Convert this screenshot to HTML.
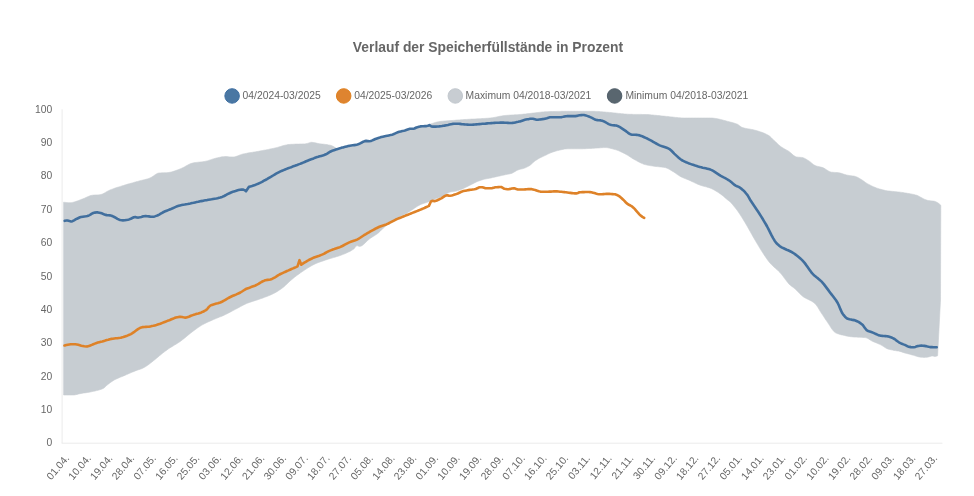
<!DOCTYPE html>
<html lang="de">
<head>
<meta charset="utf-8">
<title>Verlauf der Speicherfüllstände in Prozent</title>
<style>
html,body{margin:0;padding:0;background:#fff;}
body{width:974px;height:496px;overflow:hidden;font-family:"Liberation Sans",Arial,Helvetica,sans-serif;}
svg{display:block;}
svg text{font-family:"Liberation Sans",Arial,Helvetica,sans-serif;font-size:10.32px;fill:#666;}
svg text.title{font-size:13.87px;font-weight:bold;fill:#666;}
</style>
</head>
<body>
<svg width="974" height="496" viewBox="0 0 974 496">
<rect width="974" height="496" fill="#fff"/>
<text class="title" x="488.0" y="51.8" text-anchor="middle">Verlauf der Speicherfüllstände in Prozent</text>
<g class="legend">
<circle cx="232.1" cy="95.95" r="7.25" fill="#4a77a3" stroke="#3e6fa2" stroke-width="1"/>
<text x="242.6" y="98.8" style="font-size:10.33px">04/2024-03/2025</text>
<circle cx="343.7" cy="95.95" r="7.25" fill="#de8430" stroke="#e0801c" stroke-width="1"/>
<text x="354.2" y="98.8" style="font-size:10.33px">04/2025-03/2026</text>
<circle cx="455.3" cy="95.95" r="7.25" fill="#c8cdd2" stroke="#c2c8ce" stroke-width="1"/>
<text x="465.6" y="98.8" style="font-size:10.33px">Maximum 04/2018-03/2021</text>
<circle cx="614.6" cy="95.95" r="7.25" fill="#59666f" stroke="#4f5d68" stroke-width="1"/>
<text x="625.4" y="98.8" style="font-size:10.33px">Minimum 04/2018-03/2021</text>
</g>
<path d="M63.6 202.2 L65.1 202.4 L66.6 202.6 L68.1 202.7 L70.0 202.7 L71.1 202.7 L72.6 202.4 L74.1 202.1 L75.6 201.6 L77.1 201.1 L78.6 200.5 L80.1 199.9 L81.6 199.3 L82.5 199.0 L84.5 198.2 L86.0 197.5 L87.5 196.8 L89.0 196.2 L90.5 195.6 L92.6 195.2 L93.5 195.1 L95.0 195.0 L96.5 194.9 L98.0 194.9 L100.0 194.7 L101.0 194.5 L102.5 194.0 L104.0 193.3 L105.5 192.4 L107.0 191.5 L108.5 190.7 L110.0 190.0 L111.5 189.4 L113.0 188.9 L114.5 188.3 L116.0 187.8 L117.5 187.3 L119.0 186.9 L120.5 186.4 L121.9 185.9 L123.4 185.5 L125.0 185.0 L126.4 184.6 L127.9 184.1 L129.4 183.7 L130.9 183.3 L132.4 182.9 L133.9 182.4 L135.4 182.0 L136.9 181.6 L137.7 181.4 L138.4 181.2 L139.9 180.8 L141.4 180.4 L142.9 180.1 L144.4 179.7 L145.9 179.3 L147.4 178.9 L148.9 178.4 L150.0 178.0 L151.9 177.0 L153.4 176.0 L154.9 174.9 L156.4 173.9 L157.9 173.2 L159.0 173.0 L160.8 172.9 L162.3 172.8 L163.8 172.8 L165.3 172.7 L166.8 172.7 L167.7 172.6 L168.3 172.5 L169.8 172.3 L171.3 172.0 L172.8 171.6 L174.3 171.1 L175.8 170.6 L177.3 170.0 L178.8 169.4 L180.0 169.0 L181.8 168.2 L183.3 167.5 L184.8 166.7 L186.3 165.8 L187.8 165.0 L189.3 164.2 L190.8 163.6 L192.8 163.0 L193.8 162.8 L195.3 162.6 L196.8 162.4 L198.3 162.2 L199.7 162.1 L201.2 161.9 L202.7 161.8 L204.2 161.5 L205.0 161.4 L205.7 161.2 L207.2 160.9 L208.7 160.4 L210.2 159.9 L211.7 159.4 L213.2 158.9 L215.0 158.4 L216.2 158.1 L217.7 157.8 L219.2 157.4 L220.7 157.1 L222.2 156.8 L223.7 156.7 L225.0 156.6 L226.7 156.6 L228.2 156.7 L229.7 156.9 L231.2 156.9 L233.0 157.0 L234.2 156.9 L235.7 156.6 L237.2 156.1 L238.6 155.5 L240.1 154.9 L241.6 154.4 L243.0 154.0 L244.6 153.7 L246.1 153.4 L247.6 153.1 L249.1 152.8 L250.6 152.6 L252.1 152.4 L253.6 152.1 L255.1 151.9 L256.6 151.6 L258.0 151.4 L259.6 151.1 L261.1 150.8 L262.6 150.5 L264.1 150.2 L265.6 150.0 L267.1 149.7 L268.6 149.4 L270.1 149.0 L271.6 148.7 L273.1 148.4 L275.0 148.0 L276.1 147.8 L277.5 147.4 L279.0 146.9 L280.5 146.5 L282.0 146.0 L283.5 145.6 L285.0 145.2 L286.5 144.9 L288.0 144.6 L290.0 144.4 L291.0 144.3 L292.5 144.3 L294.0 144.2 L295.5 144.1 L297.0 144.1 L298.5 144.1 L300.0 144.0 L301.5 144.0 L303.0 143.9 L304.5 143.9 L305.7 143.8 L307.5 143.4 L309.0 142.9 L310.5 142.4 L311.5 142.3 L313.5 142.5 L315.0 142.8 L316.4 143.1 L317.9 143.5 L318.7 143.6 L319.4 143.7 L320.9 143.9 L322.4 144.1 L323.9 144.2 L325.9 144.5 L326.9 144.6 L328.4 144.9 L330.2 145.2 L331.4 145.6 L332.9 146.2 L334.4 147.1 L335.9 148.1 L337.7 149.2 L339.2 148.8 L340.7 148.4 L342.2 147.9 L343.1 147.7 L343.7 147.5 L345.2 147.1 L346.7 146.7 L348.2 146.3 L348.9 146.2 L349.7 146.0 L351.2 145.8 L352.7 145.6 L354.2 145.4 L355.7 145.2 L357.5 144.8 L358.7 144.4 L360.2 143.6 L361.8 142.8 L363.3 142.0 L364.8 141.4 L366.1 141.2 L367.8 141.4 L369.0 141.6 L370.8 141.3 L372.3 140.7 L373.8 140.0 L375.3 139.3 L376.2 139.0 L378.3 138.3 L379.8 137.9 L381.3 137.4 L382.8 137.0 L384.8 136.5 L385.8 136.3 L387.3 136.0 L388.8 135.7 L390.3 135.4 L392.0 135.0 L393.3 134.6 L394.8 133.9 L396.3 133.2 L397.8 132.6 L399.2 132.1 L400.8 131.7 L402.3 131.3 L403.8 131.0 L404.9 130.7 L406.9 130.0 L408.4 129.5 L409.9 129.1 L410.7 129.0 L411.4 129.0 L412.9 129.0 L413.6 129.0 L414.4 128.8 L416.4 127.8 L417.4 127.5 L418.9 127.1 L420.4 126.7 L422.2 126.5 L423.4 126.5 L424.9 126.4 L426.5 126.4 L427.9 126.1 L429.4 124.4 L430.9 123.9 L432.4 123.4 L433.9 122.9 L435.4 122.4 L436.9 122.1 L438.4 121.8 L440.0 121.5 L441.4 121.3 L442.9 121.2 L444.4 121.0 L445.9 120.9 L447.4 120.8 L448.9 120.7 L450.4 120.6 L452.0 120.5 L453.4 120.4 L454.9 120.3 L456.4 120.1 L457.9 120.0 L459.4 119.9 L460.9 119.8 L462.4 119.7 L463.9 119.6 L465.0 119.5 L466.9 119.4 L468.4 119.3 L469.9 119.2 L471.4 119.1 L472.9 119.1 L474.4 119.0 L475.9 118.9 L477.4 118.8 L478.9 118.8 L480.4 118.7 L481.9 118.6 L483.4 118.5 L484.9 118.4 L486.4 118.3 L487.9 118.2 L489.4 118.1 L490.0 118.0 L490.9 117.9 L492.4 117.7 L493.9 117.5 L495.4 117.2 L496.9 116.9 L498.4 116.6 L499.9 116.3 L501.4 116.0 L502.9 115.8 L504.4 115.6 L505.0 115.5 L505.9 115.4 L507.4 115.3 L508.9 115.2 L510.4 115.1 L511.9 115.0 L513.4 114.9 L514.9 114.8 L516.4 114.8 L517.9 114.7 L519.4 114.5 L520.0 114.5 L520.9 114.4 L522.4 114.3 L523.9 114.1 L525.4 114.0 L526.9 113.8 L528.4 113.6 L529.9 113.5 L531.4 113.3 L532.9 113.1 L534.0 113.0 L535.9 112.8 L537.4 112.6 L538.9 112.4 L540.4 112.2 L541.9 112.0 L543.4 111.9 L545.0 111.8 L546.4 111.7 L547.9 111.7 L549.4 111.6 L550.9 111.6 L552.4 111.5 L553.9 111.5 L555.4 111.5 L556.9 111.4 L558.4 111.4 L559.9 111.4 L561.4 111.3 L562.9 111.3 L564.4 111.3 L565.9 111.3 L567.6 111.3 L568.9 111.3 L570.4 111.3 L571.9 111.3 L573.4 111.3 L574.9 111.3 L576.4 111.3 L577.9 111.3 L579.4 111.3 L580.9 111.3 L582.4 111.3 L583.9 111.3 L585.4 111.3 L586.9 111.3 L588.4 111.3 L589.9 111.3 L591.4 111.3 L592.6 111.3 L594.4 111.3 L595.9 111.4 L597.4 111.4 L598.9 111.5 L600.4 111.7 L601.9 111.8 L603.4 111.9 L604.9 112.0 L606.4 112.2 L607.9 112.3 L609.4 112.4 L610.0 112.5 L610.9 112.6 L612.4 112.7 L613.9 112.9 L615.4 113.0 L616.9 113.2 L618.4 113.4 L619.9 113.5 L621.4 113.7 L622.9 113.8 L624.4 114.0 L625.9 114.1 L627.4 114.2 L628.9 114.3 L630.0 114.3 L631.9 114.3 L633.4 114.4 L634.9 114.4 L636.4 114.4 L637.9 114.4 L639.4 114.4 L640.9 114.4 L642.4 114.5 L643.9 114.5 L645.0 114.5 L646.9 114.6 L648.4 114.6 L649.9 114.7 L651.4 114.9 L652.9 115.0 L654.4 115.2 L655.9 115.3 L657.4 115.5 L658.9 115.6 L660.4 115.8 L661.9 116.0 L663.4 116.1 L665.3 116.3 L666.4 116.4 L667.9 116.5 L669.4 116.7 L670.9 116.9 L672.4 117.0 L673.9 117.2 L675.4 117.4 L676.9 117.5 L678.4 117.7 L679.9 117.8 L681.4 117.9 L682.9 118.0 L684.4 118.0 L685.3 118.0 L687.3 118.0 L688.8 118.0 L690.3 118.0 L691.8 118.0 L693.3 118.0 L694.8 118.0 L696.3 118.0 L697.8 118.0 L699.3 118.0 L700.8 118.0 L702.3 118.0 L703.8 118.0 L705.3 118.0 L706.8 118.0 L708.3 118.0 L710.4 118.0 L711.3 118.0 L712.8 118.1 L714.3 118.3 L715.8 118.5 L717.3 118.7 L718.8 119.1 L720.3 119.4 L721.8 119.8 L723.3 120.2 L724.8 120.6 L726.3 121.0 L727.8 121.4 L729.3 121.8 L730.0 122.0 L730.8 122.2 L732.3 122.6 L733.8 123.0 L735.3 123.5 L736.8 124.0 L737.5 124.3 L738.3 124.8 L739.8 125.9 L741.3 127.0 L742.5 127.6 L744.3 128.1 L745.8 128.4 L747.3 128.7 L748.8 128.9 L750.3 129.2 L751.8 129.5 L752.5 129.6 L753.3 129.8 L754.8 130.2 L756.3 130.6 L757.8 131.0 L759.3 131.5 L760.8 132.0 L762.6 132.6 L763.8 133.1 L765.3 133.7 L766.8 134.5 L768.8 135.6 L769.8 136.3 L771.3 137.7 L772.8 139.2 L774.3 140.7 L775.0 141.3 L775.8 142.1 L777.3 143.5 L778.8 144.9 L780.3 146.2 L781.4 147.0 L783.3 148.2 L784.8 149.1 L786.3 149.9 L787.8 150.7 L788.9 151.4 L790.8 152.9 L792.3 154.3 L793.8 155.6 L795.3 156.5 L796.4 156.9 L798.3 157.2 L799.8 157.3 L801.3 157.4 L802.6 157.6 L804.3 158.2 L805.8 159.0 L807.3 159.9 L808.9 160.9 L810.3 161.9 L811.8 163.2 L813.3 164.5 L815.2 165.6 L816.3 166.0 L817.8 166.4 L819.3 166.7 L820.8 167.1 L822.7 167.6 L823.8 168.1 L825.3 169.0 L826.8 170.0 L828.3 170.9 L829.8 171.7 L831.5 172.2 L832.8 172.3 L834.3 172.4 L835.8 172.5 L837.7 172.6 L838.8 172.8 L840.3 173.1 L841.8 173.5 L843.3 174.0 L844.8 174.5 L846.3 174.9 L847.7 175.2 L849.3 175.5 L850.8 175.7 L852.3 175.9 L853.8 176.1 L855.3 176.4 L856.8 177.0 L858.3 177.7 L860.3 178.9 L861.3 179.5 L862.8 180.5 L864.3 181.6 L865.8 182.7 L867.8 183.9 L868.8 184.4 L870.3 185.2 L871.8 186.0 L873.3 186.7 L874.8 187.3 L876.3 187.9 L877.8 188.4 L879.3 188.9 L880.8 189.3 L882.3 189.7 L883.8 190.1 L885.3 190.5 L886.8 190.7 L887.8 190.9 L889.8 191.1 L891.3 191.3 L892.8 191.4 L894.3 191.6 L895.8 191.7 L897.8 191.9 L898.8 192.0 L900.3 192.2 L901.8 192.4 L903.3 192.6 L904.8 192.9 L906.3 193.1 L907.9 193.4 L909.3 193.6 L910.8 193.9 L912.3 194.2 L913.8 194.5 L915.3 194.9 L916.8 195.3 L917.9 195.7 L920.0 196.9 L921.3 197.6 L922.8 198.4 L924.3 199.2 L925.8 199.8 L927.3 200.3 L928.0 200.5 L928.8 200.6 L930.3 200.8 L931.8 200.9 L933.3 201.1 L934.5 201.3 L936.3 202.0 L937.8 202.8 L938.5 203.3 L939.3 203.9 L940.8 205.3 L940.5 300 L937.6 355.8 L936.1 356.3 L934.7 356.5 L933.1 356.1 L932.3 356.0 L931.6 356.1 L930.1 356.5 L928.2 357.0 L927.1 357.2 L925.6 357.3 L924.2 357.4 L922.6 357.3 L921.1 357.2 L919.4 357.0 L918.1 356.7 L916.6 356.3 L915.1 355.8 L914.5 355.6 L913.6 355.3 L912.1 354.9 L910.6 354.5 L909.7 354.2 L907.6 353.7 L906.1 353.3 L904.8 353.0 L903.1 352.4 L901.6 351.9 L900.0 351.4 L898.6 351.1 L897.1 350.9 L895.3 350.6 L894.1 350.4 L892.6 350.1 L891.1 349.8 L889.6 349.4 L887.8 348.9 L886.6 348.4 L885.1 347.6 L883.6 346.6 L882.1 345.6 L880.3 344.6 L879.1 344.1 L877.6 343.4 L876.1 342.8 L874.6 342.2 L872.8 341.4 L871.6 340.8 L870.1 339.9 L868.6 338.9 L867.1 338.1 L865.3 337.6 L864.1 337.5 L862.6 337.4 L861.1 337.3 L859.6 337.2 L858.1 337.2 L856.6 337.1 L855.1 337.1 L853.6 337.0 L852.8 336.9 L852.1 336.8 L850.6 336.7 L849.2 336.4 L847.7 336.2 L846.2 335.9 L844.7 335.5 L842.7 335.1 L841.7 334.9 L840.2 334.5 L838.7 334.0 L837.2 333.5 L835.2 332.6 L834.2 331.8 L832.7 330.1 L831.2 328.0 L829.7 325.6 L827.7 322.6 L826.7 321.1 L825.2 318.9 L823.7 316.6 L822.2 314.3 L820.2 311.3 L819.2 309.6 L817.7 307.1 L816.2 304.9 L815.2 303.8 L813.2 302.2 L811.7 301.2 L810.2 300.4 L808.7 299.7 L807.2 299.0 L805.7 298.2 L804.2 297.4 L802.6 296.3 L801.2 295.1 L799.7 293.6 L798.2 292.0 L796.7 290.4 L795.0 288.8 L793.7 287.8 L792.2 286.7 L790.7 285.6 L790.0 285.0 L789.2 284.2 L787.7 282.5 L786.2 280.6 L784.7 278.6 L783.2 276.5 L781.7 274.6 L780.0 272.6 L778.7 271.3 L777.2 269.8 L775.7 268.5 L774.2 267.2 L772.7 265.8 L771.2 264.3 L770.0 263.0 L768.2 260.8 L766.7 258.7 L765.2 256.5 L763.7 254.3 L762.6 252.6 L760.7 249.6 L759.2 247.1 L757.7 244.6 L756.2 242.1 L755.0 240.0 L753.2 236.9 L751.7 234.2 L750.2 231.6 L748.7 228.9 L747.2 226.2 L745.7 223.7 L745.0 222.5 L744.2 221.2 L742.7 218.7 L741.2 216.3 L739.7 214.0 L738.2 211.8 L737.5 210.8 L736.7 209.7 L735.2 207.8 L733.7 205.9 L732.2 204.1 L730.7 202.5 L730.0 201.8 L729.2 201.1 L728.0 200.2 L726.2 198.7 L724.7 197.4 L723.2 196.1 L721.7 194.9 L720.4 193.9 L718.7 192.8 L717.2 191.8 L715.7 190.9 L714.2 190.0 L712.7 189.2 L711.2 188.5 L710.4 188.2 L709.7 187.9 L708.2 187.5 L706.7 187.0 L705.2 186.6 L703.7 186.2 L702.2 185.8 L700.3 185.2 L699.2 184.8 L697.7 184.2 L696.2 183.5 L694.7 182.8 L693.2 182.1 L691.7 181.4 L690.3 180.7 L688.7 180.0 L687.2 179.4 L685.7 178.8 L684.2 178.2 L682.7 177.6 L681.2 176.9 L680.3 176.4 L678.2 175.1 L676.7 174.1 L675.3 173.0 L673.8 172.0 L672.8 171.4 L670.8 170.2 L669.3 169.3 L667.8 168.5 L666.3 167.9 L665.3 167.6 L663.3 167.3 L661.8 167.1 L660.3 166.9 L658.8 166.8 L657.3 166.6 L655.3 166.4 L654.3 166.3 L652.8 166.0 L651.3 165.8 L649.8 165.6 L648.3 165.3 L646.8 165.0 L645.2 164.6 L643.8 164.2 L642.3 163.6 L640.8 162.9 L639.3 162.2 L637.8 161.4 L636.3 160.6 L635.2 160.0 L633.3 158.9 L631.8 158.0 L630.3 157.0 L628.8 156.0 L627.3 155.1 L625.2 153.9 L624.3 153.4 L622.8 152.7 L621.3 152.0 L619.8 151.3 L618.3 150.6 L616.8 150.1 L615.2 149.6 L613.8 149.2 L612.3 148.8 L610.8 148.4 L609.3 148.1 L607.8 147.8 L606.3 147.6 L605.0 147.6 L603.3 147.6 L601.8 147.7 L600.3 147.8 L598.8 147.9 L597.3 148.0 L595.8 148.1 L594.3 148.2 L592.6 148.3 L591.3 148.4 L589.8 148.4 L588.3 148.5 L586.8 148.6 L585.3 148.7 L583.8 148.7 L582.3 148.8 L580.8 148.8 L580.0 148.8 L579.3 148.8 L577.8 148.8 L576.3 148.8 L574.8 148.8 L573.3 148.8 L571.8 148.8 L570.3 148.8 L568.8 148.8 L567.6 148.8 L565.8 148.9 L564.3 149.1 L562.8 149.4 L561.3 149.7 L559.8 150.1 L558.3 150.4 L557.6 150.6 L556.8 150.8 L555.3 151.2 L553.8 151.7 L552.3 152.2 L550.8 152.8 L550.0 153.1 L549.3 153.4 L547.8 154.1 L546.3 154.9 L545.5 155.3 L544.8 155.6 L543.3 156.3 L541.8 157.0 L540.3 157.7 L538.8 158.5 L537.3 159.4 L535.8 160.4 L535.2 160.8 L534.3 161.5 L532.8 162.8 L531.3 164.2 L529.8 165.4 L529.1 165.9 L528.3 166.3 L526.8 167.1 L525.3 167.8 L523.9 168.3 L522.3 168.8 L520.8 169.1 L519.3 169.5 L517.8 170.0 L516.3 170.7 L514.8 171.7 L513.3 172.6 L511.6 173.4 L510.3 173.7 L508.8 174.1 L507.3 174.3 L505.8 174.6 L504.4 174.9 L502.8 175.2 L501.3 175.6 L499.9 175.9 L498.4 176.2 L497.2 176.5 L495.4 176.9 L493.9 177.3 L492.4 177.6 L491.1 177.9 L489.4 178.2 L487.9 178.5 L486.4 178.8 L484.9 179.1 L483.9 179.3 L481.9 179.9 L480.4 180.4 L478.9 180.9 L477.4 181.5 L476.7 181.8 L475.9 182.2 L474.4 182.9 L472.9 183.7 L471.4 184.5 L470.5 184.9 L469.9 185.2 L468.4 186.0 L466.9 186.8 L465.4 187.5 L463.3 188.5 L462.4 188.9 L460.9 189.5 L459.4 190.1 L457.9 190.6 L456.2 191.1 L454.9 191.3 L453.4 191.5 L451.9 191.7 L450.0 192.1 L448.9 192.5 L447.4 193.3 L445.9 194.2 L444.4 195.2 L442.5 196.2 L441.4 196.7 L439.9 197.3 L438.4 197.8 L436.9 198.3 L435.4 198.8 L433.9 199.4 L432.6 199.9 L430.9 200.7 L429.4 201.4 L428.0 202.0 L426.4 202.6 L424.9 203.0 L423.4 203.5 L421.9 204.0 L420.8 204.4 L418.9 205.4 L417.4 206.3 L415.9 207.3 L414.4 208.3 L413.5 208.9 L411.4 210.3 L409.9 211.3 L408.4 212.2 L406.9 213.2 L406.3 213.5 L405.4 214.0 L403.9 214.7 L402.4 215.4 L400.9 216.1 L399.0 217.1 L397.9 217.7 L396.4 218.6 L394.9 219.5 L393.4 220.5 L391.8 221.6 L390.4 222.6 L388.9 223.6 L387.4 224.8 L385.9 225.9 L384.5 227.1 L382.9 228.5 L381.4 230.0 L379.9 231.5 L378.4 232.9 L377.3 233.8 L375.4 235.1 L373.9 236.0 L372.4 236.9 L370.9 237.9 L370.0 238.5 L367.9 240.2 L366.4 241.7 L364.9 243.2 L363.4 244.6 L361.9 245.7 L360.4 246.3 L359.6 246.4 L358.9 246.3 L357.0 245.6 L355.9 246.3 L353.9 248.9 L352.9 249.6 L351.4 250.5 L349.9 251.4 L348.4 252.1 L346.9 252.8 L345.4 253.5 L343.9 254.1 L342.6 254.6 L340.9 255.2 L339.4 255.8 L337.9 256.3 L336.4 256.7 L334.9 257.2 L333.4 257.6 L331.9 258.1 L330.4 258.5 L328.9 258.9 L327.4 259.4 L325.9 259.9 L325.0 260.2 L323.0 260.9 L321.5 261.4 L320.0 261.9 L318.5 262.5 L317.0 263.1 L315.0 263.9 L314.0 264.4 L312.5 265.2 L311.0 266.0 L309.5 266.9 L308.0 267.8 L306.5 268.8 L305.0 269.7 L303.5 270.8 L302.5 271.4 L300.5 272.8 L299.0 273.9 L297.5 275.0 L296.0 276.1 L294.5 277.3 L293.0 278.5 L291.5 279.8 L290.0 281.0 L288.5 282.4 L287.0 283.9 L285.5 285.3 L284.0 286.7 L283.0 287.5 L281.0 289.0 L279.5 290.0 L278.0 291.0 L276.5 291.9 L275.0 292.8 L273.0 293.8 L272.0 294.3 L270.5 295.0 L269.0 295.6 L267.5 296.2 L266.0 296.8 L264.5 297.3 L263.0 297.9 L261.5 298.4 L260.4 298.8 L258.5 299.5 L257.0 300.0 L255.5 300.4 L254.0 300.9 L252.5 301.4 L251.0 301.9 L249.5 302.4 L247.9 303.0 L246.5 303.6 L245.0 304.3 L243.5 305.0 L242.0 305.8 L240.5 306.6 L239.0 307.4 L237.5 308.2 L236.0 309.0 L235.4 309.3 L234.5 309.8 L233.0 310.6 L231.5 311.4 L230.0 312.2 L228.5 313.0 L227.0 313.8 L225.4 314.6 L224.0 315.2 L222.5 315.9 L221.0 316.5 L219.5 317.1 L218.0 317.7 L216.5 318.3 L215.3 318.8 L213.5 319.6 L212.0 320.2 L210.5 320.9 L209.0 321.5 L207.5 322.2 L206.0 322.9 L204.5 323.7 L202.8 324.6 L201.5 325.3 L200.0 326.3 L198.5 327.3 L197.0 328.3 L195.5 329.4 L194.0 330.5 L192.8 331.4 L191.0 332.8 L189.5 334.0 L188.0 335.2 L186.5 336.5 L185.0 337.7 L183.5 338.9 L182.0 340.1 L180.3 341.4 L179.0 342.3 L177.5 343.2 L176.0 344.2 L174.5 345.1 L173.0 346.0 L171.5 346.9 L170.0 347.8 L168.5 348.8 L167.7 349.4 L167.0 349.9 L165.5 351.0 L164.0 352.1 L162.5 353.3 L161.0 354.5 L160.2 355.2 L159.5 355.7 L158.0 357.0 L156.5 358.3 L155.0 359.5 L153.5 360.7 L152.7 361.4 L152.0 361.9 L150.6 363.0 L149.1 364.2 L147.6 365.3 L146.1 366.3 L144.6 367.2 L142.7 368.2 L141.6 368.7 L140.1 369.2 L138.6 369.7 L137.1 370.2 L135.2 370.9 L134.1 371.4 L132.6 372.0 L131.1 372.6 L129.6 373.3 L128.1 373.9 L126.6 374.6 L125.2 375.2 L123.6 375.9 L122.1 376.5 L120.6 377.1 L119.1 377.7 L117.6 378.4 L116.1 379.1 L114.6 379.8 L113.9 380.2 L113.1 380.7 L111.6 381.7 L110.1 382.7 L108.6 383.9 L107.1 385.1 L106.4 385.7 L105.6 386.5 L104.0 388.0 L102.6 388.7 L100.8 389.4 L99.6 389.8 L98.1 390.2 L96.6 390.6 L95.1 391.0 L93.6 391.3 L92.1 391.6 L91.1 391.8 L89.1 392.2 L87.6 392.4 L86.1 392.7 L84.6 392.9 L83.1 393.1 L81.6 393.4 L79.8 393.7 L78.6 394.0 L77.1 394.4 L75.6 394.7 L74.1 395.0 L73.4 395.0 L72.6 395.0 L71.1 395.0 L69.6 395.0 L68.1 395.0 L66.6 395.0 L65.1 395.0 L63.6 395.0Z" fill="#c7cdd2" stroke="#c7cdd2" stroke-width="0.6" stroke-linejoin="round"/>
<path d="M62.1 109.3V443.2" stroke="#e8e8e8" stroke-width="0.86" fill="none"/>
<path d="M61.7 443.2H942.4" stroke="#e8e8e8" stroke-width="0.86" fill="none"/>
<path d="M64.7 220.8 L65.0 220.7 L66.5 220.5 L67.4 220.5 L69.5 221.1 L71.1 221.5 L72.5 221.2 L74.0 220.4 L76.0 219.2 L77.0 218.7 L78.5 218.0 L80.0 217.3 L81.0 217.0 L82.9 216.7 L84.4 216.5 L85.9 216.3 L87.4 215.9 L88.9 215.4 L89.6 215.1 L90.4 214.7 L91.9 213.7 L93.3 213.0 L94.9 212.6 L97.0 212.3 L97.9 212.4 L99.4 212.7 L100.7 213.0 L102.4 213.6 L103.9 214.3 L105.7 214.9 L106.9 215.1 L108.4 215.2 L109.9 215.4 L110.6 215.5 L111.4 215.7 L112.9 216.3 L114.3 217.0 L115.9 217.9 L117.4 218.8 L119.2 219.7 L120.3 220.0 L121.8 220.3 L122.9 220.4 L124.8 220.3 L126.3 220.0 L127.8 219.7 L129.1 219.4 L130.8 218.7 L132.3 218.0 L133.8 217.3 L135.3 217.0 L136.8 217.4 L137.7 217.6 L139.8 217.3 L141.3 216.9 L142.8 216.4 L144.3 216.2 L145.1 216.1 L145.8 216.1 L147.3 216.2 L148.8 216.4 L150.3 216.6 L151.8 216.7 L152.5 216.7 L153.3 216.7 L154.8 216.4 L156.2 215.9 L157.4 215.5 L159.2 214.6 L160.7 213.7 L162.2 212.8 L163.6 212.0 L165.2 211.3 L166.7 210.7 L168.2 210.1 L169.7 209.5 L171.0 209.0 L172.7 208.3 L174.2 207.6 L175.7 206.9 L177.2 206.3 L178.7 205.8 L180.0 205.4 L181.7 205.0 L183.2 204.7 L184.7 204.5 L186.2 204.2 L187.7 204.0 L189.2 203.7 L190.3 203.5 L192.1 203.1 L193.6 202.8 L195.1 202.4 L196.6 202.1 L198.1 201.8 L199.6 201.4 L200.3 201.3 L201.1 201.1 L202.6 200.9 L204.1 200.6 L205.6 200.3 L207.1 200.1 L208.6 199.8 L210.3 199.5 L211.6 199.3 L213.1 199.0 L214.6 198.7 L216.1 198.5 L217.6 198.2 L219.1 197.8 L220.3 197.5 L222.1 196.9 L223.6 196.3 L225.1 195.5 L226.6 194.7 L228.0 193.9 L229.5 193.2 L231.0 192.5 L232.9 191.8 L234.0 191.4 L235.5 191.0 L237.0 190.5 L238.5 190.1 L240.0 189.8 L241.5 189.6 L242.9 189.5 L244.5 190.1 L246.0 191.3 L249.0 186.8 L250.5 186.4 L252.0 186.0 L253.5 185.5 L255.0 185.0 L256.5 184.4 L258.0 183.8 L259.5 183.1 L261.0 182.4 L262.5 181.6 L264.0 180.7 L265.4 180.0 L267.0 179.1 L268.5 178.2 L270.0 177.3 L271.6 176.4 L273.1 175.5 L274.6 174.6 L276.1 173.7 L277.6 172.9 L279.1 172.1 L280.5 171.4 L282.1 170.7 L283.6 170.1 L285.1 169.5 L286.6 168.9 L288.1 168.3 L290.0 167.6 L291.1 167.2 L292.6 166.6 L294.1 166.1 L295.6 165.5 L297.1 165.0 L298.6 164.4 L300.0 163.9 L301.6 163.2 L303.1 162.6 L304.6 162.0 L306.1 161.3 L307.6 160.7 L308.6 160.3 L310.6 159.5 L312.1 158.9 L313.6 158.4 L315.1 157.8 L317.2 157.1 L318.2 156.8 L319.7 156.3 L321.2 155.9 L322.7 155.5 L324.2 155.0 L325.9 154.3 L327.2 153.6 L328.7 152.6 L330.2 151.7 L331.7 151.0 L333.2 150.4 L334.7 149.9 L335.9 149.5 L337.7 148.9 L339.2 148.5 L340.7 148.1 L342.2 147.6 L343.1 147.4 L343.7 147.2 L345.2 146.8 L346.7 146.4 L348.2 146.0 L348.9 145.9 L349.7 145.7 L351.2 145.5 L352.7 145.3 L354.2 145.1 L355.7 144.9 L357.5 144.5 L358.7 144.1 L360.2 143.3 L361.8 142.5 L363.3 141.7 L364.8 141.1 L366.1 140.9 L367.8 141.1 L369.0 141.3 L370.8 141.0 L372.3 140.4 L373.8 139.7 L375.3 139.0 L376.2 138.7 L378.3 138.0 L379.8 137.6 L381.3 137.1 L382.8 136.7 L384.8 136.2 L385.8 136.0 L387.3 135.7 L388.8 135.4 L390.3 135.1 L392.0 134.7 L393.3 134.3 L394.8 133.6 L396.3 132.9 L397.8 132.3 L399.2 131.8 L400.8 131.4 L402.3 131.0 L403.8 130.7 L404.9 130.4 L406.9 129.7 L408.4 129.2 L409.9 128.8 L410.7 128.7 L411.4 128.7 L412.9 128.7 L413.6 128.7 L414.4 128.5 L416.4 127.5 L417.4 127.2 L418.9 126.8 L420.4 126.4 L422.2 126.2 L423.4 126.2 L424.9 126.1 L426.5 126.1 L427.9 125.8 L429.4 125.1 L431.5 126.5 L433.0 126.6 L434.5 126.6 L435.7 126.6 L437.5 126.5 L439.0 126.4 L440.5 126.2 L442.0 126.0 L443.5 125.7 L444.4 125.6 L446.5 125.2 L448.0 124.9 L449.5 124.5 L451.0 124.2 L452.5 123.9 L454.0 123.8 L455.2 123.7 L457.0 123.7 L458.5 123.8 L460.0 123.9 L461.5 124.1 L463.0 124.2 L464.5 124.4 L466.0 124.5 L467.5 124.6 L469.0 124.7 L470.2 124.7 L472.0 124.7 L473.5 124.6 L474.9 124.5 L476.4 124.4 L477.9 124.3 L479.4 124.1 L480.9 124.0 L482.4 123.8 L483.9 123.7 L485.4 123.6 L487.5 123.4 L488.4 123.3 L489.9 123.2 L491.4 123.1 L492.9 123.0 L494.4 122.9 L495.9 122.8 L497.4 122.7 L498.9 122.7 L500.4 122.6 L501.9 122.6 L503.4 122.6 L504.9 122.7 L506.4 122.8 L507.9 122.9 L509.4 123.0 L510.5 123.0 L512.4 122.9 L513.9 122.7 L515.4 122.4 L516.9 122.1 L518.4 121.8 L519.1 121.6 L519.9 121.4 L521.4 120.9 L522.9 120.4 L524.9 119.8 L525.9 119.6 L527.4 119.3 L528.9 119.1 L530.4 118.8 L531.9 118.7 L532.8 118.7 L534.9 119.3 L536.4 119.7 L537.9 119.7 L539.4 119.5 L540.9 119.4 L542.4 119.1 L543.9 118.9 L545.0 118.7 L546.9 118.2 L548.4 117.7 L549.9 117.3 L550.7 117.2 L551.4 117.2 L552.9 117.2 L554.4 117.2 L555.9 117.3 L557.4 117.3 L558.8 117.3 L560.0 117.3 L561.8 117.1 L563.3 116.8 L564.8 116.4 L566.3 116.2 L567.4 116.1 L569.3 116.1 L570.8 116.1 L572.3 116.1 L573.8 116.1 L575.4 116.1 L576.8 115.9 L578.3 115.5 L579.7 115.2 L581.3 115.1 L582.8 115.0 L584.0 115.0 L585.8 115.4 L587.7 116.1 L588.8 116.5 L590.3 117.1 L592.0 117.9 L593.3 118.6 L594.8 119.5 L595.7 119.8 L596.3 119.9 L597.8 120.1 L599.3 120.2 L600.7 120.4 L602.3 120.8 L603.8 121.4 L604.4 121.6 L605.3 122.1 L606.8 123.0 L608.7 124.1 L609.8 124.5 L611.3 125.0 L613.0 125.3 L614.3 125.4 L615.8 125.5 L616.7 125.6 L618.8 126.5 L620.0 127.2 L621.8 128.3 L623.3 129.3 L625.2 130.6 L626.3 131.4 L627.8 132.6 L629.3 133.7 L630.8 134.4 L631.5 134.6 L632.3 134.7 L633.8 134.8 L635.3 134.8 L636.8 134.9 L637.7 135.0 L639.8 135.4 L641.3 135.9 L642.7 136.5 L644.2 137.2 L645.7 137.9 L647.7 138.8 L648.7 139.3 L650.2 140.1 L651.7 140.9 L653.2 141.8 L654.7 142.7 L656.2 143.5 L657.7 144.3 L659.2 145.1 L660.3 145.6 L662.2 146.3 L663.7 146.8 L665.2 147.3 L666.7 147.8 L668.2 148.4 L669.0 148.8 L669.7 149.2 L671.2 150.5 L672.7 152.0 L674.2 153.6 L675.3 154.6 L677.2 156.4 L678.7 157.8 L680.2 159.0 L681.6 160.0 L683.2 160.9 L684.7 161.6 L686.2 162.3 L687.7 162.9 L689.2 163.5 L690.3 163.9 L692.2 164.6 L693.7 165.1 L695.2 165.6 L696.7 166.0 L698.2 166.5 L699.7 166.9 L700.3 167.1 L701.2 167.3 L702.7 167.7 L704.2 168.0 L705.7 168.3 L707.2 168.7 L708.7 169.1 L710.4 169.6 L711.7 170.1 L713.2 170.9 L714.7 171.8 L716.2 172.8 L717.7 173.8 L719.2 174.8 L720.4 175.6 L722.2 176.6 L723.7 177.4 L725.2 178.1 L726.7 179.0 L728.1 179.8 L730.0 181.0 L731.1 181.9 L732.6 183.3 L734.1 184.6 L735.0 185.2 L735.6 185.6 L737.1 186.3 L738.6 186.9 L740.0 187.7 L741.6 188.9 L743.1 190.2 L744.6 191.7 L746.1 193.5 L747.5 195.2 L749.1 197.9 L750.0 199.5 L750.6 200.5 L752.1 202.8 L753.6 205.0 L755.1 207.2 L756.6 209.4 L758.0 211.5 L759.6 214.0 L761.1 216.4 L762.6 218.8 L764.1 221.3 L766.0 224.5 L767.1 226.5 L768.6 229.4 L770.1 232.4 L771.6 235.4 L773.1 238.2 L774.6 240.7 L776.3 243.0 L777.6 244.3 L779.1 245.6 L780.0 246.3 L782.1 247.6 L783.6 248.3 L785.1 249.0 L786.6 249.7 L788.1 250.3 L789.6 251.0 L791.1 251.7 L792.6 252.6 L794.1 253.5 L795.6 254.6 L797.1 255.7 L798.6 256.9 L800.1 258.2 L801.6 259.6 L802.6 260.6 L804.6 262.9 L806.1 264.9 L807.6 267.1 L809.1 269.2 L810.6 271.3 L812.0 273.2 L812.7 273.9 L813.5 274.7 L815.0 276.1 L816.5 277.3 L818.0 278.4 L819.5 279.7 L821.4 281.4 L822.5 282.6 L824.0 284.4 L825.5 286.4 L827.0 288.4 L828.5 290.4 L830.2 292.7 L831.5 294.4 L833.0 296.3 L834.5 298.3 L836.0 300.3 L837.7 303.0 L839.0 305.7 L840.5 309.4 L842.0 312.7 L842.7 313.8 L843.5 314.9 L845.0 316.7 L846.5 318.1 L847.7 318.8 L849.5 319.3 L851.0 319.6 L852.5 319.9 L854.0 320.1 L855.3 320.5 L857.0 321.2 L858.5 321.9 L860.0 322.9 L861.5 324.0 L862.8 325.1 L864.5 327.4 L866.5 330.1 L867.5 330.7 L869.0 331.3 L870.5 331.8 L872.0 332.3 L872.8 332.6 L873.5 332.9 L875.0 333.6 L876.5 334.3 L878.0 334.9 L879.5 335.4 L880.3 335.6 L881.0 335.7 L882.5 335.9 L884.0 336.0 L885.5 336.1 L887.0 336.3 L887.8 336.4 L888.5 336.5 L890.0 337.0 L891.5 337.5 L892.8 338.1 L894.5 339.0 L895.9 340.1 L897.4 341.2 L898.9 342.3 L900.0 342.9 L901.9 343.8 L903.4 344.4 L904.8 344.9 L906.4 345.7 L907.9 346.4 L909.7 346.9 L910.9 347.1 L912.4 347.2 L913.7 347.3 L915.4 346.9 L916.9 346.3 L917.7 346.1 L918.4 346.0 L919.9 345.7 L921.4 345.6 L922.9 345.7 L924.4 345.9 L925.8 346.1 L927.4 346.5 L928.9 346.8 L930.6 347.1 L931.9 347.1 L933.4 347.2 L934.7 347.2 L936.4 347.2 L936.7 347.2" fill="none" stroke="#416f9e" stroke-width="2.6" stroke-linejoin="round" stroke-linecap="round"/>
<path d="M64.5 345.5 L64.8 345.4 L66.3 345.0 L67.8 344.7 L69.3 344.5 L70.8 344.3 L72.3 344.2 L74.2 344.2 L75.3 344.3 L76.8 344.5 L78.3 344.8 L79.8 345.2 L81.3 345.7 L82.8 346.0 L84.3 346.3 L86.3 346.5 L87.3 346.4 L88.8 346.1 L90.3 345.5 L91.8 344.9 L93.3 344.2 L94.8 343.6 L95.9 343.2 L97.8 342.6 L99.3 342.2 L100.8 341.8 L102.3 341.5 L104.0 341.0 L105.3 340.6 L106.8 340.1 L108.3 339.7 L109.8 339.2 L111.4 338.9 L112.8 338.7 L114.3 338.5 L115.8 338.3 L117.3 338.2 L118.8 338.0 L120.3 337.8 L121.4 337.6 L123.4 337.1 L124.9 336.6 L126.4 336.1 L127.9 335.4 L129.4 334.8 L130.2 334.4 L130.9 334.1 L132.4 333.2 L133.9 332.2 L135.4 331.0 L136.9 329.9 L138.4 328.9 L139.9 328.0 L141.4 327.4 L142.7 327.1 L144.4 327.0 L145.9 326.9 L147.7 326.8 L148.9 326.7 L150.4 326.4 L151.9 326.1 L153.4 325.8 L154.9 325.4 L156.4 325.0 L157.7 324.6 L159.4 324.1 L160.9 323.5 L162.4 322.9 L163.9 322.3 L165.4 321.7 L166.9 321.1 L167.7 320.8 L168.4 320.6 L169.9 320.0 L171.4 319.3 L172.9 318.7 L174.4 318.1 L175.9 317.6 L177.4 317.2 L178.9 316.9 L180.3 316.8 L181.9 317.0 L183.4 317.3 L185.3 317.6 L186.4 317.5 L187.9 317.1 L189.4 316.5 L190.9 315.8 L192.8 315.1 L193.9 314.7 L195.4 314.3 L196.9 313.8 L198.4 313.4 L199.9 312.9 L201.4 312.4 L202.8 311.8 L204.4 311.0 L205.9 310.1 L206.6 309.6 L207.4 308.8 L208.9 306.9 L210.3 305.6 L211.9 304.9 L213.4 304.4 L214.9 304.0 L216.4 303.6 L217.9 303.3 L219.4 302.8 L220.3 302.5 L220.9 302.2 L222.4 301.5 L223.9 300.7 L225.4 299.8 L226.9 298.9 L228.4 298.0 L230.4 297.0 L231.4 296.5 L232.9 295.8 L234.4 295.2 L235.9 294.6 L237.4 293.9 L238.9 293.2 L240.4 292.5 L242.0 291.5 L243.5 290.5 L245.4 289.3 L246.5 288.8 L248.0 288.2 L249.5 287.7 L251.0 287.1 L252.5 286.6 L254.0 286.1 L255.4 285.5 L257.0 284.7 L258.5 283.9 L260.0 282.9 L261.5 282.0 L263.0 281.2 L264.5 280.6 L265.4 280.3 L267.5 279.9 L269.0 279.7 L270.4 279.4 L272.0 278.9 L273.5 278.1 L275.0 277.3 L276.5 276.4 L278.0 275.4 L279.5 274.5 L280.5 274.0 L282.5 273.1 L284.0 272.4 L285.5 271.7 L287.0 271.0 L288.5 270.4 L290.0 269.7 L291.5 269.0 L293.0 268.4 L294.5 267.7 L296.0 267.1 L297.5 266.4 L299.5 260.2 L301.3 264.7 L302.8 263.7 L304.3 262.7 L305.8 261.8 L307.3 260.9 L308.8 260.0 L310.3 259.3 L311.8 258.5 L312.5 258.2 L313.3 257.8 L314.8 257.2 L316.3 256.7 L317.8 256.2 L319.3 255.7 L320.8 255.1 L322.6 254.4 L323.8 253.8 L325.3 253.0 L326.8 252.2 L328.3 251.4 L330.0 250.6 L331.3 250.1 L332.8 249.5 L334.3 249.1 L335.8 248.6 L337.3 248.1 L338.8 247.6 L340.0 247.1 L341.8 246.3 L343.3 245.5 L344.8 244.7 L346.3 243.9 L347.8 243.1 L349.3 242.4 L350.0 242.1 L350.8 241.8 L352.3 241.3 L353.8 240.8 L355.3 240.3 L357.0 239.6 L358.3 238.9 L359.8 238.0 L361.3 237.0 L362.8 236.0 L364.3 235.0 L365.0 234.6 L365.9 234.1 L367.4 233.2 L368.9 232.3 L370.0 231.6 L371.9 230.6 L373.4 229.8 L374.9 229.0 L376.4 228.2 L377.9 227.5 L379.4 226.8 L380.9 226.2 L382.4 225.7 L383.9 225.2 L385.4 224.7 L386.3 224.4 L388.4 223.5 L389.9 222.7 L391.4 221.9 L392.9 221.1 L394.4 220.3 L395.4 219.8 L397.4 218.9 L398.9 218.3 L400.4 217.7 L401.9 217.1 L403.4 216.5 L404.9 215.9 L406.3 215.3 L407.9 214.7 L409.4 214.1 L410.9 213.5 L412.4 212.9 L413.9 212.3 L415.3 211.7 L416.9 211.1 L418.4 210.5 L419.9 209.9 L421.4 209.3 L422.9 208.6 L424.4 208.0 L425.9 207.3 L427.4 206.6 L428.9 205.9 L430.8 201.7 L432.2 200.8 L434.4 201.1 L435.3 201.0 L436.8 200.5 L438.3 199.8 L439.8 199.0 L440.7 198.6 L441.3 198.3 L442.8 197.3 L444.3 196.3 L445.8 195.6 L447.1 195.3 L448.8 195.6 L450.0 195.7 L451.8 195.5 L453.3 195.1 L454.8 194.6 L456.2 194.1 L457.8 193.5 L459.3 192.8 L460.8 192.0 L462.3 191.4 L463.3 191.1 L465.3 190.7 L466.8 190.4 L468.3 190.1 L469.8 189.9 L470.5 189.8 L471.3 189.7 L472.8 189.5 L474.3 189.3 L475.7 189.0 L477.3 188.3 L478.8 187.5 L479.8 187.3 L482.3 187.2 L483.3 187.5 L485.4 188.2 L486.3 188.2 L487.8 188.2 L489.3 188.2 L491.1 188.2 L492.3 188.1 L493.8 187.7 L495.3 187.3 L496.2 187.2 L496.8 187.2 L498.3 187.1 L499.8 187.0 L501.3 187.0 L502.8 187.8 L504.4 188.8 L505.8 189.0 L507.3 189.2 L508.5 189.2 L510.3 188.9 L511.8 188.5 L513.7 188.2 L514.8 188.4 L516.3 189.1 L517.8 189.5 L519.3 189.5 L520.8 189.5 L522.3 189.5 L523.9 189.5 L525.3 189.4 L526.8 189.3 L528.3 189.1 L530.1 189.0 L531.3 189.1 L532.8 189.4 L534.3 189.8 L535.2 190.0 L535.8 190.2 L537.3 190.8 L538.9 191.3 L540.3 191.6 L541.9 191.7 L543.4 191.8 L544.9 191.8 L545.5 191.8 L546.4 191.8 L547.9 191.7 L549.4 191.6 L550.0 191.6 L550.9 191.6 L552.4 191.5 L553.9 191.4 L555.0 191.4 L556.9 191.4 L558.4 191.5 L559.9 191.7 L561.4 191.8 L562.9 192.0 L564.4 192.1 L565.0 192.2 L565.9 192.3 L567.4 192.5 L568.9 192.7 L570.4 192.9 L571.9 193.1 L573.4 193.3 L574.9 193.4 L576.3 193.4 L577.9 193.0 L579.4 192.3 L580.0 192.2 L580.9 192.2 L582.4 192.1 L583.9 192.1 L585.4 192.0 L586.9 192.0 L588.9 192.0 L589.9 192.1 L591.4 192.3 L592.9 192.7 L594.4 193.1 L595.9 193.6 L597.4 194.0 L598.9 194.2 L600.0 194.3 L601.9 194.2 L603.4 194.1 L604.9 194.0 L606.4 193.9 L607.0 193.9 L607.9 193.9 L609.4 193.9 L610.9 194.0 L612.4 194.1 L613.9 194.2 L615.1 194.3 L616.9 194.9 L618.2 195.6 L619.9 196.7 L621.4 198.0 L623.2 199.7 L624.4 200.9 L625.9 202.5 L627.2 203.7 L628.9 204.8 L630.4 205.5 L632.3 206.7 L633.4 207.7 L634.9 209.2 L636.3 210.8 L637.9 212.7 L639.4 214.4 L640.3 215.3 L642.4 216.9 L643.4 217.5 L644.2 217.9" fill="none" stroke="#de8228" stroke-width="2.6" stroke-linejoin="round" stroke-linecap="round"/>
<g class="yaxis">
<text x="52.3" y="446.30" text-anchor="end">0</text>
<text x="52.3" y="412.94" text-anchor="end">10</text>
<text x="52.3" y="379.58" text-anchor="end">20</text>
<text x="52.3" y="346.22" text-anchor="end">30</text>
<text x="52.3" y="312.86" text-anchor="end">40</text>
<text x="52.3" y="279.50" text-anchor="end">50</text>
<text x="52.3" y="246.14" text-anchor="end">60</text>
<text x="52.3" y="212.78" text-anchor="end">70</text>
<text x="52.3" y="179.42" text-anchor="end">80</text>
<text x="52.3" y="146.06" text-anchor="end">90</text>
<text x="52.3" y="112.70" text-anchor="end">100</text>
</g>
<g class="xaxis">
<text transform="translate(69.80 458.50) rotate(-50)" text-anchor="end">01.04.</text>
<text transform="translate(91.50 458.50) rotate(-50)" text-anchor="end">10.04.</text>
<text transform="translate(113.21 458.50) rotate(-50)" text-anchor="end">19.04.</text>
<text transform="translate(134.91 458.50) rotate(-50)" text-anchor="end">28.04.</text>
<text transform="translate(156.61 458.50) rotate(-50)" text-anchor="end">07.05.</text>
<text transform="translate(178.31 458.50) rotate(-50)" text-anchor="end">16.05.</text>
<text transform="translate(200.02 458.50) rotate(-50)" text-anchor="end">25.05.</text>
<text transform="translate(221.72 458.50) rotate(-50)" text-anchor="end">03.06.</text>
<text transform="translate(243.42 458.50) rotate(-50)" text-anchor="end">12.06.</text>
<text transform="translate(265.12 458.50) rotate(-50)" text-anchor="end">21.06.</text>
<text transform="translate(286.83 458.50) rotate(-50)" text-anchor="end">30.06.</text>
<text transform="translate(308.53 458.50) rotate(-50)" text-anchor="end">09.07.</text>
<text transform="translate(330.23 458.50) rotate(-50)" text-anchor="end">18.07.</text>
<text transform="translate(351.93 458.50) rotate(-50)" text-anchor="end">27.07.</text>
<text transform="translate(373.64 458.50) rotate(-50)" text-anchor="end">05.08.</text>
<text transform="translate(395.34 458.50) rotate(-50)" text-anchor="end">14.08.</text>
<text transform="translate(417.04 458.50) rotate(-50)" text-anchor="end">23.08.</text>
<text transform="translate(438.74 458.50) rotate(-50)" text-anchor="end">01.09.</text>
<text transform="translate(460.45 458.50) rotate(-50)" text-anchor="end">10.09.</text>
<text transform="translate(482.15 458.50) rotate(-50)" text-anchor="end">19.09.</text>
<text transform="translate(503.85 458.50) rotate(-50)" text-anchor="end">28.09.</text>
<text transform="translate(525.55 458.50) rotate(-50)" text-anchor="end">07.10.</text>
<text transform="translate(547.26 458.50) rotate(-50)" text-anchor="end">16.10.</text>
<text transform="translate(568.96 458.50) rotate(-50)" text-anchor="end">25.10.</text>
<text transform="translate(590.66 458.50) rotate(-50)" text-anchor="end">03.11.</text>
<text transform="translate(612.36 458.50) rotate(-50)" text-anchor="end">12.11.</text>
<text transform="translate(634.07 458.50) rotate(-50)" text-anchor="end">21.11.</text>
<text transform="translate(655.77 458.50) rotate(-50)" text-anchor="end">30.11.</text>
<text transform="translate(677.47 458.50) rotate(-50)" text-anchor="end">09.12.</text>
<text transform="translate(699.18 458.50) rotate(-50)" text-anchor="end">18.12.</text>
<text transform="translate(720.88 458.50) rotate(-50)" text-anchor="end">27.12.</text>
<text transform="translate(742.58 458.50) rotate(-50)" text-anchor="end">05.01.</text>
<text transform="translate(764.28 458.50) rotate(-50)" text-anchor="end">14.01.</text>
<text transform="translate(785.99 458.50) rotate(-50)" text-anchor="end">23.01.</text>
<text transform="translate(807.69 458.50) rotate(-50)" text-anchor="end">01.02.</text>
<text transform="translate(829.39 458.50) rotate(-50)" text-anchor="end">10.02.</text>
<text transform="translate(851.09 458.50) rotate(-50)" text-anchor="end">19.02.</text>
<text transform="translate(872.80 458.50) rotate(-50)" text-anchor="end">28.02.</text>
<text transform="translate(894.50 458.50) rotate(-50)" text-anchor="end">09.03.</text>
<text transform="translate(916.20 458.50) rotate(-50)" text-anchor="end">18.03.</text>
<text transform="translate(937.90 458.50) rotate(-50)" text-anchor="end">27.03.</text>
</g>
</svg>
</body>
</html>
